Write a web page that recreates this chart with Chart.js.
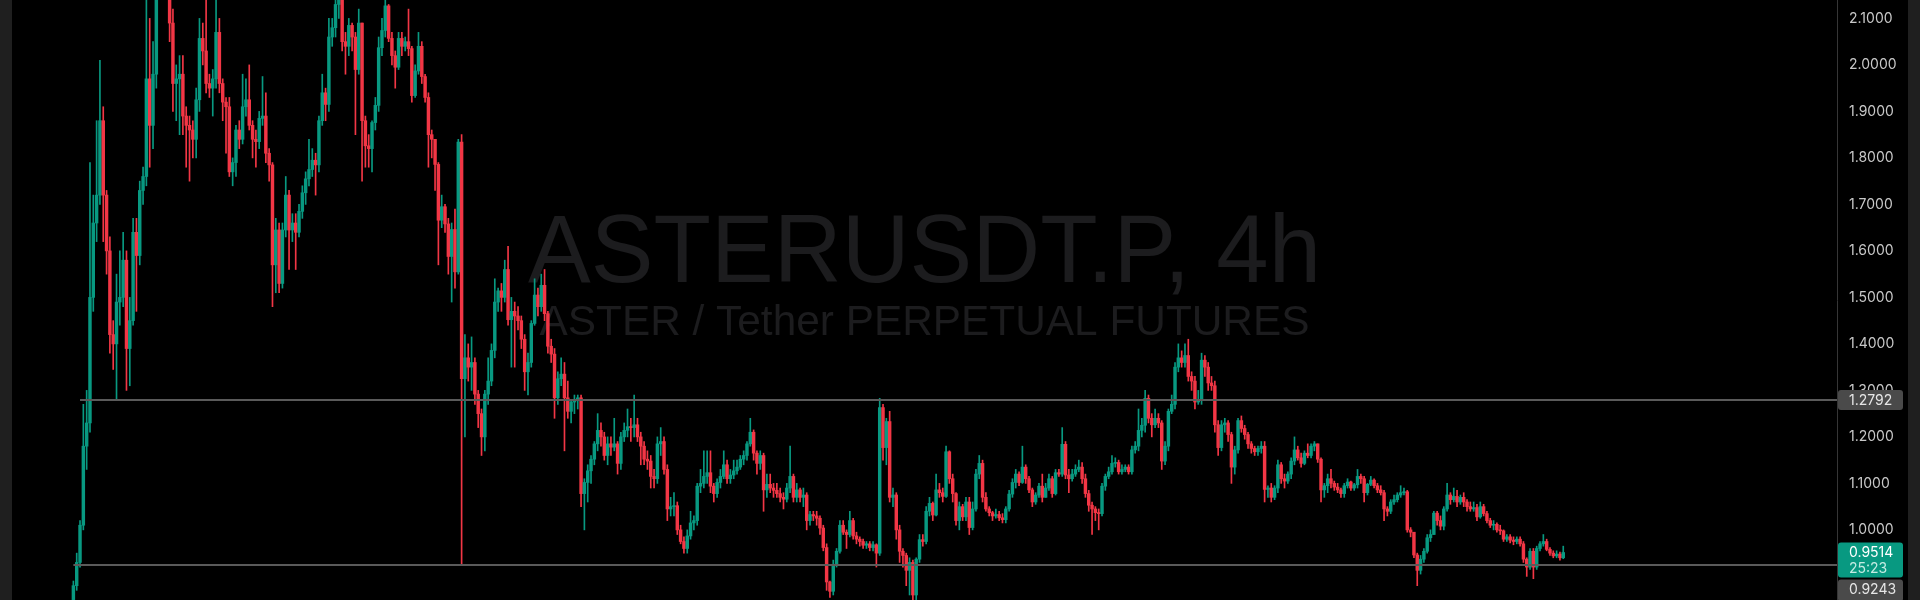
<!DOCTYPE html>
<html>
<head>
<meta charset="utf-8">
<title>ASTERUSDT.P, 4h</title>
<script src="https://cdn.jsdelivr.net/npm/chart.js@4.4.1/dist/chart.umd.min.js"></script>
<style>
  html, body { margin: 0; padding: 0; background: #000; }
  canvas { display: block; }
</style>
</head>
<body>
<canvas id="chart" width="1920" height="600"></canvas>
<script>
// 4h candles. open of each candle = close of the one before
const firstOpen = 0.85;

const closes = [
  0.88,0.93,1.01,1.18,1.23,1.50,1.66,1.72,1.88,1.72,
  1.60,1.42,1.40,1.49,1.50,1.58,1.39,1.45,1.64,1.59,
  1.73,1.76,1.97,1.87,1.98,2.20,2.28,2.24,2.20,2.09,
  1.96,1.97,1.98,1.89,1.87,1.86,1.84,1.925,2.057,2.03,
  1.96,1.95,1.97,2.07,1.96,1.92,1.91,1.77,1.79,1.86,
  1.84,1.91,1.925,1.87,1.84,1.835,1.885,1.89,1.81,1.785,
  1.57,1.645,1.53,1.645,1.72,1.645,1.66,1.64,1.685,1.725,
  1.755,1.775,1.795,1.785,1.88,1.94,1.915,2.06,2.08,2.13,
  2.16,2.05,2.04,2.085,2.06,1.99,2.09,1.88,1.826,1.82,
  1.876,1.913,2.037,2.074,2.127,2.057,2.02,1.995,2.057,2.04,
  2.05,2.035,1.934,1.987,2.04,1.975,1.93,1.85,1.84,1.786,
  1.666,1.695,1.658,1.588,1.646,1.555,1.834,1.325,1.37,1.35,
  1.36,1.292,1.25,1.20,1.292,1.32,1.386,1.49,1.514,1.50,
  1.56,1.452,1.47,1.46,1.45,1.41,1.34,1.36,1.444,1.505,
  1.48,1.526,1.465,1.395,1.378,1.284,1.325,1.335,1.284,1.255,
  1.275,1.28,1.284,1.078,1.102,1.127,1.152,1.185,1.214,1.20,
  1.16,1.185,1.178,1.185,1.143,1.20,1.214,1.222,1.22,1.226,
  1.20,1.18,1.152,1.148,1.115,1.11,1.185,1.19,1.13,1.045,
  1.05,1.052,1.0,0.975,0.96,0.987,1.015,1.02,1.094,1.10,
  1.115,1.123,1.094,1.078,1.102,1.115,1.14,1.11,1.118,1.127,
  1.135,1.152,1.16,1.185,1.21,1.165,1.143,1.16,1.086,1.098,
  1.09,1.085,1.078,1.07,1.066,1.09,1.115,1.07,1.086,1.07,
  1.075,1.02,1.033,1.03,1.025,1.004,0.962,0.888,0.868,0.925,
  0.954,1.01,0.995,0.99,1.02,0.987,0.98,0.975,0.967,0.97,
  0.962,0.968,0.95,1.263,1.177,1.233,1.07,1.075,1.0,0.954,
  0.945,0.913,0.93,0.86,0.937,0.979,0.975,1.04,1.057,1.032,
  1.086,1.08,1.072,1.168,1.11,1.078,1.02,1.05,1.028,1.06,
  1.005,1.045,1.12,1.143,1.07,1.045,1.037,1.03,1.033,1.026,
  1.022,1.045,1.077,1.102,1.12,1.102,1.135,1.11,1.086,1.06,
  1.075,1.094,1.07,1.09,1.11,1.078,1.123,1.12,1.184,1.118,
  1.11,1.12,1.13,1.135,1.11,1.078,1.053,1.045,1.037,1.035,
  1.094,1.115,1.125,1.143,1.145,1.125,1.13,1.135,1.125,1.172,
  1.18,1.214,1.225,1.283,1.24,1.226,1.24,1.23,1.148,1.18,
  1.255,1.27,1.35,1.37,1.36,1.375,1.33,1.32,1.275,1.28,
  1.365,1.35,1.316,1.31,1.226,1.177,1.226,1.23,1.205,1.135,
  1.172,1.235,1.218,1.205,1.185,1.175,1.168,1.175,1.18,1.087,
  1.09,1.07,1.09,1.14,1.11,1.105,1.12,1.148,1.172,1.155,
  1.143,1.165,1.16,1.18,1.185,1.152,1.086,1.095,1.11,1.10,
  1.092,1.086,1.078,1.095,1.103,1.09,1.097,1.115,1.11,1.08,
  1.098,1.107,1.095,1.086,1.08,1.045,1.04,1.06,1.065,1.075,
  1.08,1.082,1.0,0.995,0.946,0.913,0.937,0.954,0.983,0.99,
  1.036,1.02,1.008,1.045,1.075,1.065,1.072,1.06,1.07,1.06,
  1.05,1.045,1.048,1.028,1.05,1.035,1.02,1.01,1.012,1.0,
  0.998,0.98,0.985,0.978,0.975,0.98,0.97,0.937,0.92,0.954,
  0.92,0.96,0.97,0.975,0.958,0.95,0.944,0.948,0.94,0.9514
];

const highs = [
  0.89,0.95,1.02,1.27,1.30,1.79,1.72,1.88,2.01,1.91,
  1.73,1.63,1.45,1.55,1.60,1.64,1.60,1.50,1.67,1.67,
  1.75,1.78,2.15,2.10,2.05,2.25,2.32,2.35,2.28,2.22,
  2.12,2.0,2.02,2.02,1.91,1.89,1.88,1.95,2.10,2.09,
  2.14,1.98,1.99,2.14,2.10,1.97,1.93,1.93,1.80,1.87,
  1.88,1.98,1.97,2.0,1.88,1.86,1.90,1.975,1.94,1.82,
  1.79,1.67,1.66,1.66,1.76,1.73,1.68,1.68,1.70,1.74,
  1.77,1.84,1.82,1.81,1.89,1.98,1.95,2.10,2.10,2.14,
  2.22,2.17,2.07,2.10,2.09,2.07,2.12,2.09,1.89,1.85,
  1.88,1.93,2.06,2.10,2.14,2.13,2.07,2.03,2.07,2.07,
  2.06,2.12,2.04,2.0,2.07,2.05,1.98,1.94,1.86,1.84,
  1.79,1.72,1.70,1.67,1.66,1.69,1.84,1.85,1.42,1.40,
  1.415,1.37,1.30,1.26,1.30,1.37,1.40,1.54,1.52,1.53,
  1.58,1.61,1.50,1.49,1.48,1.46,1.42,1.38,1.45,1.54,
  1.52,1.55,1.56,1.47,1.41,1.39,1.34,1.37,1.36,1.32,
  1.28,1.29,1.29,1.29,1.11,1.14,1.16,1.19,1.25,1.23,
  1.21,1.20,1.20,1.24,1.19,1.21,1.23,1.26,1.24,1.29,
  1.24,1.21,1.19,1.17,1.16,1.13,1.20,1.22,1.20,1.14,
  1.07,1.08,1.06,1.01,0.985,1.0,1.04,1.03,1.10,1.13,
  1.17,1.17,1.17,1.10,1.11,1.13,1.17,1.15,1.13,1.15,
  1.15,1.16,1.17,1.19,1.24,1.215,1.17,1.17,1.165,1.12,
  1.12,1.10,1.10,1.09,1.08,1.10,1.18,1.12,1.10,1.09,
  1.09,1.08,1.04,1.04,1.04,1.03,1.01,0.97,0.89,0.935,
  0.96,1.02,1.02,1.0,1.04,1.025,0.995,0.985,0.98,0.975,
  0.975,0.975,0.97,1.283,1.27,1.24,1.255,1.09,1.08,1.01,
  0.96,0.95,0.94,0.935,0.94,0.99,0.99,1.05,1.07,1.06,
  1.12,1.10,1.09,1.18,1.17,1.12,1.08,1.06,1.055,1.07,
  1.07,1.06,1.13,1.16,1.15,1.08,1.05,1.04,1.045,1.04,
  1.035,1.05,1.085,1.11,1.13,1.125,1.18,1.14,1.115,1.09,
  1.08,1.10,1.12,1.10,1.12,1.115,1.13,1.13,1.22,1.19,
  1.13,1.13,1.14,1.15,1.145,1.12,1.085,1.06,1.05,1.045,
  1.10,1.12,1.135,1.16,1.155,1.15,1.14,1.14,1.14,1.18,
  1.19,1.26,1.24,1.30,1.29,1.25,1.26,1.25,1.235,1.19,
  1.26,1.29,1.36,1.40,1.385,1.40,1.41,1.34,1.33,1.30,
  1.38,1.375,1.36,1.33,1.32,1.235,1.235,1.24,1.235,1.21,
  1.18,1.24,1.245,1.225,1.21,1.19,1.18,1.18,1.19,1.19,
  1.095,1.10,1.095,1.15,1.145,1.12,1.125,1.155,1.20,1.18,
  1.165,1.17,1.185,1.185,1.19,1.185,1.155,1.10,1.12,1.13,
  1.105,1.10,1.09,1.10,1.11,1.105,1.10,1.13,1.12,1.115,
  1.10,1.115,1.11,1.10,1.095,1.085,1.05,1.065,1.075,1.08,
  1.095,1.09,1.085,1.005,0.995,0.95,0.945,0.96,0.99,1.0,
  1.04,1.04,1.03,1.05,1.10,1.08,1.09,1.085,1.075,1.08,
  1.065,1.06,1.06,1.055,1.06,1.055,1.04,1.025,1.02,1.015,
  1.01,1.0,0.99,0.99,0.985,0.985,0.985,0.975,0.94,0.96,
  0.96,0.965,0.975,0.99,0.98,0.962,0.955,0.955,0.952,0.965
];

const lows = [
  0.82,0.87,0.92,1.0,1.13,1.21,1.47,1.62,1.70,1.62,
  1.55,1.38,1.345,1.28,1.44,1.48,1.30,1.31,1.44,1.47,
  1.57,1.70,1.74,1.78,1.82,1.95,2.16,2.18,2.15,2.05,
  1.90,1.88,1.85,1.85,1.78,1.75,1.80,1.80,1.90,2.0,
  1.94,1.93,1.89,1.95,1.94,1.88,1.81,1.76,1.74,1.76,
  1.82,1.83,1.89,1.86,1.80,1.78,1.82,1.87,1.79,1.75,
  1.48,1.51,1.51,1.52,1.63,1.56,1.62,1.56,1.63,1.67,
  1.70,1.74,1.76,1.72,1.77,1.87,1.88,1.90,2.04,2.06,
  2.10,2.03,1.98,2.02,2.03,1.85,1.98,1.75,1.78,1.78,
  1.77,1.86,1.90,2.02,2.06,2.05,2.0,1.95,1.99,2.02,
  2.03,2.02,1.92,1.93,1.98,1.96,1.92,1.78,1.80,1.73,
  1.57,1.65,1.64,1.55,1.49,1.52,1.55,0.924,1.20,1.32,
  1.30,1.27,1.22,1.16,1.17,1.27,1.31,1.37,1.47,1.47,
  1.49,1.44,1.35,1.35,1.43,1.39,1.30,1.29,1.35,1.44,
  1.46,1.47,1.45,1.38,1.36,1.24,1.27,1.31,1.17,1.24,
  1.23,1.25,1.26,1.05,1.00,1.06,1.10,1.14,1.17,1.18,
  1.15,1.14,1.16,1.17,1.12,1.13,1.19,1.20,1.19,1.20,
  1.19,1.14,1.14,1.13,1.09,1.09,1.10,1.16,1.12,1.02,
  1.03,1.03,0.99,0.97,0.95,0.95,0.98,1.0,1.01,1.08,
  1.09,1.10,1.08,1.06,1.07,1.09,1.11,1.10,1.10,1.11,
  1.12,1.13,1.14,1.15,1.18,1.15,1.12,1.13,1.04,1.07,
  1.08,1.07,1.07,1.06,1.045,1.06,1.08,1.06,1.06,1.06,
  1.05,1.0,1.01,1.02,1.01,0.99,0.955,0.87,0.855,0.86,
  0.92,0.95,0.99,0.96,0.985,0.98,0.97,0.965,0.96,0.96,
  0.955,0.955,0.92,0.945,1.15,1.14,1.06,1.05,0.98,0.93,
  0.92,0.88,0.86,0.84,0.85,0.93,0.965,0.97,1.03,1.02,
  1.03,1.07,1.06,1.07,1.10,1.06,1.01,1.0,1.02,1.02,
  0.99,1.0,1.04,1.11,1.06,1.04,1.03,1.02,1.025,1.02,
  1.015,1.015,1.04,1.07,1.09,1.095,1.10,1.10,1.08,1.05,
  1.055,1.07,1.06,1.07,1.085,1.07,1.075,1.115,1.115,1.11,
  1.08,1.105,1.115,1.125,1.10,1.07,1.04,0.99,1.02,1.0,
  1.03,1.085,1.11,1.12,1.135,1.12,1.12,1.125,1.12,1.12,
  1.165,1.17,1.20,1.21,1.23,1.20,1.22,1.22,1.13,1.14,
  1.17,1.25,1.26,1.34,1.35,1.35,1.32,1.30,1.26,1.27,
  1.27,1.33,1.30,1.30,1.21,1.16,1.17,1.21,1.19,1.10,
  1.12,1.165,1.21,1.195,1.175,1.165,1.16,1.16,1.165,1.06,
  1.07,1.06,1.065,1.08,1.10,1.09,1.10,1.11,1.14,1.15,
  1.135,1.14,1.155,1.155,1.17,1.145,1.06,1.07,1.08,1.09,
  1.085,1.08,1.07,1.07,1.09,1.085,1.085,1.09,1.10,1.06,
  1.075,1.095,1.09,1.08,1.075,1.02,1.03,1.035,1.055,1.06,
  1.07,1.075,0.995,0.985,0.94,0.88,0.905,0.93,0.95,0.975,
  0.99,1.01,1.0,1.0,1.04,1.055,1.06,1.05,1.055,1.05,
  1.04,1.04,1.04,1.02,1.025,1.03,1.015,1.005,1.0,0.995,
  0.99,0.975,0.975,0.972,0.968,0.97,0.965,0.93,0.90,0.915,
  0.895,0.915,0.955,0.965,0.955,0.945,0.94,0.94,0.935,0.938
];

// price axis
const yMin = 0.8492;
const yMax = 2.1396;
const tickValues = [1.0,1.1,1.2,1.3,1.4,1.5,1.6,1.7,1.8,1.9,2.0,2.1];

// horizontal levels drawn on the chart (start = candle where the ray begins)
const levels = [
  { price: 1.2792, start: 2 },
  { price: 0.9243, start: 0 }
];
const lastPrice = 0.9514;
const countdown = "25:23";

const title = "ASTERUSDT.P, 4h";
const subtitle = "ASTER / Tether PERPETUAL FUTURES";

const UP = "#089981";
const DOWN = "#f23645";

// empty bars before the first candle and after the last one
const padBefore = 18;
const padAfter = 82;

let opens = [];
let prev = firstOpen;
for (let i = 0; i < closes.length; i++) {
  opens.push(prev);
  prev = closes[i];
}

let labels = [];
let bodyData = [];
let wickData = [];
let colors = [];
const total = padBefore + closes.length + padAfter;
for (let i = 0; i < total; i++) {
  labels.push(String(i));
  const k = i - padBefore;
  if (k < 0 || k >= closes.length) {
    bodyData.push(null);
    wickData.push(null);
    colors.push(UP);
    continue;
  }
  const o = opens[k], c = closes[k];
  const h = Math.max(highs[k], o, c);
  const l = Math.min(lows[k], o, c);
  bodyData.push([o, c]);
  wickData.push([l, h]);
  colors.push(c >= o ? UP : DOWN);
}

function roundRect(ctx, x, y, w, h, r) {
  ctx.beginPath();
  ctx.moveTo(x + r, y);
  ctx.lineTo(x + w - r, y);
  ctx.quadraticCurveTo(x + w, y, x + w, y + r);
  ctx.lineTo(x + w, y + h - r);
  ctx.quadraticCurveTo(x + w, y + h, x + w - r, y + h);
  ctx.lineTo(x + r, y + h);
  ctx.quadraticCurveTo(x, y + h, x, y + h - r);
  ctx.lineTo(x, y + r);
  ctx.quadraticCurveTo(x, y, x + r, y);
  ctx.closePath();
}

const tvPlugin = {
  id: "tv",
  beforeDraw(chart) {
    const ctx = chart.ctx;
    ctx.save();
    ctx.fillStyle = "#000";
    ctx.fillRect(0, 0, chart.width, chart.height);
    ctx.fillStyle = "#1f1f1f";
    ctx.fillRect(0, 0, 12, chart.height);
    ctx.fillRect(chart.width - 12, 0, 12, chart.height);
    ctx.restore();
  },
  beforeDatasetsDraw(chart) {
    const ctx = chart.ctx;
    const a = chart.chartArea;
    const cx = (a.left + a.right) / 2;
    ctx.save();
    ctx.fillStyle = "#1c1c1e";
    ctx.textAlign = "center";
    ctx.textBaseline = "alphabetic";

    ctx.font = '96px "Liberation Sans", Arial, sans-serif';
    let w = ctx.measureText(title).width;
    ctx.save();
    ctx.translate(cx, 282);
    ctx.scale(793 / w, 1);
    ctx.fillText(title, 0, 0);
    ctx.restore();

    ctx.font = '42px "Liberation Sans", Arial, sans-serif';
    w = ctx.measureText(subtitle).width;
    ctx.save();
    ctx.translate(cx, 335);
    ctx.scale(770 / w, 1);
    ctx.fillText(subtitle, 0, 0);
    ctx.restore();
    ctx.restore();
  },
  afterDatasetsDraw(chart) {
    const ctx = chart.ctx;
    const x = chart.scales.x, y = chart.scales.y;
    const a = chart.chartArea;
    ctx.save();
    ctx.strokeStyle = "#5a5a5a";
    ctx.lineWidth = 2;
    levels.forEach(lv => {
      const py = Math.round(y.getPixelForValue(lv.price));
      const px = x.getPixelForValue(padBefore + lv.start);
      ctx.beginPath();
      ctx.moveTo(px, py);
      ctx.lineTo(a.right, py);
      ctx.stroke();
    });
    ctx.restore();
  },
  afterDraw(chart) {
    const ctx = chart.ctx;
    const y = chart.scales.y;
    const bx = y.left + 1, bw = 65;
    const tx = y.left + 12;
    ctx.save();
    ctx.font = '14px Inter, sans-serif';
    ctx.textAlign = "left";
    ctx.textBaseline = "middle";

    // upper level label
    let py = y.getPixelForValue(levels[0].price);
    ctx.fillStyle = "#4a4a4a";
    roundRect(ctx, bx, py - 10, bw, 20, 3);
    ctx.fill();
    ctx.fillStyle = "#e6e6e6";
    ctx.fillText(levels[0].price.toFixed(4), tx, py + 0.5);

    // last price + countdown
    py = y.getPixelForValue(lastPrice);
    const gTop = py - 10;
    ctx.fillStyle = UP;
    roundRect(ctx, bx, gTop, bw, 35, 3);
    ctx.fill();
    ctx.fillStyle = "#ffffff";
    ctx.fillText(lastPrice.toFixed(4), tx, py + 0.5);
    ctx.fillStyle = "#c4ebe3";
    ctx.fillText(countdown, tx, py + 16.5);

    // lower level label, pushed under the last price box
    ctx.fillStyle = "#4a4a4a";
    roundRect(ctx, bx, gTop + 37, bw, 22, 3);
    ctx.fill();
    ctx.fillStyle = "#e6e6e6";
    ctx.fillText(levels[1].price.toFixed(4), tx, gTop + 47.5);
    ctx.restore();
  }
};

const chart = new Chart(document.getElementById("chart"), {
  type: "bar",
  data: {
    labels: labels,
    datasets: [
      {
        data: wickData,
        backgroundColor: colors,
        barThickness: 1,
        grouped: false,
        order: 2
      },
      {
        data: bodyData,
        backgroundColor: colors,
        barThickness: 2.8,
        minBarLength: 1,
        grouped: false,
        order: 1
      }
    ]
  },
  options: {
    responsive: false,
    animation: false,
    devicePixelRatio: 1,
    layout: { padding: { left: 12, right: 12, top: 0, bottom: 0 } },
    plugins: {
      legend: { display: false },
      tooltip: { enabled: false }
    },
    scales: {
      x: { display: false },
      y: {
        position: "right",
        min: yMin,
        max: yMax,
        grid: { display: false, drawTicks: false },
        border: { display: true, color: "#363636" },
        ticks: {
          color: "#c8c8c8",
          font: { family: "Inter", size: 14 },
          padding: 12,
          crossAlign: "near",
          callback: v => Number(v).toFixed(4)
        },
        afterBuildTicks: s => { s.ticks = tickValues.map(v => ({ value: v })); },
        afterFit: s => { s.width = 71; s.paddingTop = 0; s.paddingBottom = 0; }
      }
    }
  },
  plugins: [tvPlugin]
});
</script>
</body>
</html>
